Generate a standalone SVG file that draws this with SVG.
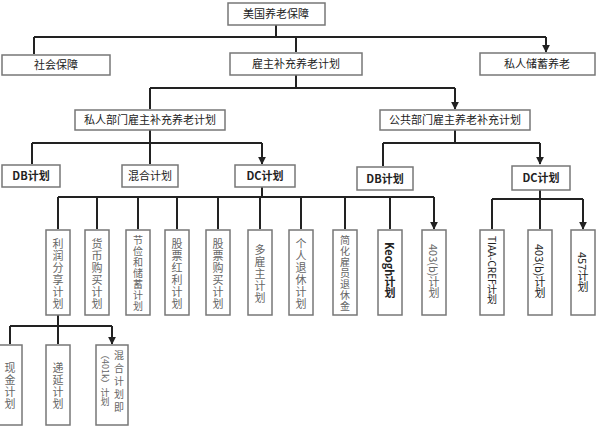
<svg xmlns="http://www.w3.org/2000/svg" width="600" height="433" viewBox="0 0 600 433">
<style>
.b{fill:#fff;stroke:#777;stroke-width:1.5}
.t{font-family:"Noto Sans CJK SC","Liberation Serif",serif;font-size:11px;fill:#222;text-anchor:middle}
.v{font-family:"Noto Sans CJK SC","Liberation Serif",serif;font-size:11px;fill:#666;writing-mode:tb;letter-spacing:1px}
.l{fill:none;stroke:#222;stroke-width:2;marker-end:url(#a)}
.p{fill:none;stroke:#222;stroke-width:2}
</style>
<defs><marker id="a" viewBox="0 0 10 10" refX="9" refY="5" markerWidth="4" markerHeight="4" orient="auto"><path d="M0,0L10,5L0,10z" fill="#222"/></marker></defs>
<rect width="600" height="433" fill="#fff"/>
<g id="connectors">
<path class="p" d="M276,25V37M34,37H546"/>
<path class="l" d="M34,37V54M296,37V52M546,37V52"/>
<path class="p" d="M296,75V88M150,88H455"/>
<path class="l" d="M150,88V109M455,88V109"/>
<path class="p" d="M150,130V143M32,143H262"/>
<path class="l" d="M32,143V164M150,143V164M262,143V164"/>
<path class="p" d="M455,130V143M383,143H540"/>
<path class="l" d="M383,143V166M540,143V164"/>
<path class="p" d="M262,187V197M58,197H434"/>
<path class="l" d="M58,197V229M97,197V229M138,197V229M177,197V229M218,197V229M260,197V229M301,197V229M345,197V229M390,197V229M434,197V229"/>
<path class="p" d="M540,190V199M492,199H583"/>
<path class="l" d="M492,199V229M540,199V229M583,199V229"/>
<path class="p" d="M58,315V326M10,326H112"/>
<path class="l" d="M10,326V344M58,326V344M112,326V344"/>
</g>
<g id="n0"><rect class="b" x="228" y="3" width="97" height="22"/><text class="t" x="276" y="18">美国养老保障</text></g>
<g id="n1"><rect class="b" x="2" y="55" width="108" height="20"/><text class="t" x="56" y="69">社会保障</text></g>
<g id="n2"><rect class="b" x="230" y="53" width="132" height="22"/><text class="t" x="296" y="68">雇主补充养老计划</text></g>
<g id="n3"><rect class="b" x="480" y="53" width="115" height="22"/><text class="t" x="537" y="68">私人储蓄养老</text></g>
<g id="n4"><rect class="b" x="75" y="110" width="150" height="20"/><text class="t" x="150" y="124">私人部门雇主补充养老计划</text></g>
<g id="n5"><rect class="b" x="380" y="110" width="150" height="20"/><text class="t" x="455" y="124">公共部门雇主养老补充计划</text></g>
<g id="n6"><rect class="b" x="2" y="165" width="58" height="22"/><text class="t" x="31" y="180" font-weight="bold">DB计划</text></g>
<g id="n7"><rect class="b" x="122" y="165" width="56" height="22"/><text class="t" x="150" y="180">混合计划</text></g>
<g id="n8"><rect class="b" x="235" y="165" width="60" height="22"/><text class="t" x="265" y="180" font-weight="bold">DC计划</text></g>
<g id="n9"><rect class="b" x="357" y="167" width="56" height="23"/><text class="t" x="385" y="183" font-weight="bold">DB计划</text></g>
<g id="n10"><rect class="b" x="512" y="166" width="58" height="24"/><text class="t" x="541" y="182" font-weight="bold">DC计划</text></g>
<g id="c1"><rect class="b" x="46" y="230" width="24" height="85"/><text class="v" x="58" y="238">利润分享计划</text></g>
<g id="c2"><rect class="b" x="85" y="230" width="24" height="85"/><text class="v" x="97" y="238">货币购买计划</text></g>
<g id="c3"><rect class="b" x="126" y="230" width="24" height="85"/><text class="v" x="138" y="235" style="font-size:10px">节俭和储蓄计划</text></g>
<g id="c4"><rect class="b" x="165" y="230" width="24" height="85"/><text class="v" x="177" y="238">股票红利计划</text></g>
<g id="c5"><rect class="b" x="206" y="230" width="24" height="85"/><text class="v" x="218" y="238">股票购买计划</text></g>
<g id="c6"><rect class="b" x="248" y="230" width="24" height="85"/><text class="v" x="260" y="244">多雇主计划</text></g>
<g id="c7"><rect class="b" x="289" y="230" width="24" height="85"/><text class="v" x="301" y="238">个人退休计划</text></g>
<g id="c8"><rect class="b" x="333" y="230" width="24" height="85"/><text class="v" x="345" y="235" style="font-size:10px">简化雇员退休金</text></g>
<g id="c9"><rect class="b" x="378" y="230" width="24" height="85"/><text class="v" x="390" y="242" style="fill:#222;font-weight:bold;letter-spacing:0">Keogh计划</text></g>
<g id="c10"><rect class="b" x="422" y="230" width="24" height="85"/><text class="v" x="434" y="244" style="letter-spacing:0">403(b)计划</text></g>
<g id="d1"><rect class="b" x="480" y="230" width="24" height="85"/><text class="v" x="492" y="236" style="fill:#222;letter-spacing:0;font-size:10px">TIAA-CREF计划</text></g>
<g id="d2"><rect class="b" x="528" y="230" width="24" height="85"/><text class="v" x="540" y="244" style="fill:#222;letter-spacing:0">403(b)计划</text></g>
<g id="d3"><rect class="b" x="571" y="230" width="24" height="85"/><text class="v" x="583" y="252" style="fill:#222;letter-spacing:0">457计划</text></g>
<g id="e1"><rect class="b" x="-2" y="345" width="24" height="80"/><text class="v" x="10" y="362">现金计划</text></g>
<g id="e2"><rect class="b" x="46" y="345" width="24" height="80"/><text class="v" x="58" y="362">递延计划</text></g>
<g id="e3"><rect class="b" x="96" y="345" width="32" height="80"/><text class="v" x="119" y="350" style="font-size:10px;letter-spacing:3px">混合计划即</text><text class="v" x="105" y="350" style="font-size:9px;letter-spacing:0">（401k）计划</text></g>
</svg>
